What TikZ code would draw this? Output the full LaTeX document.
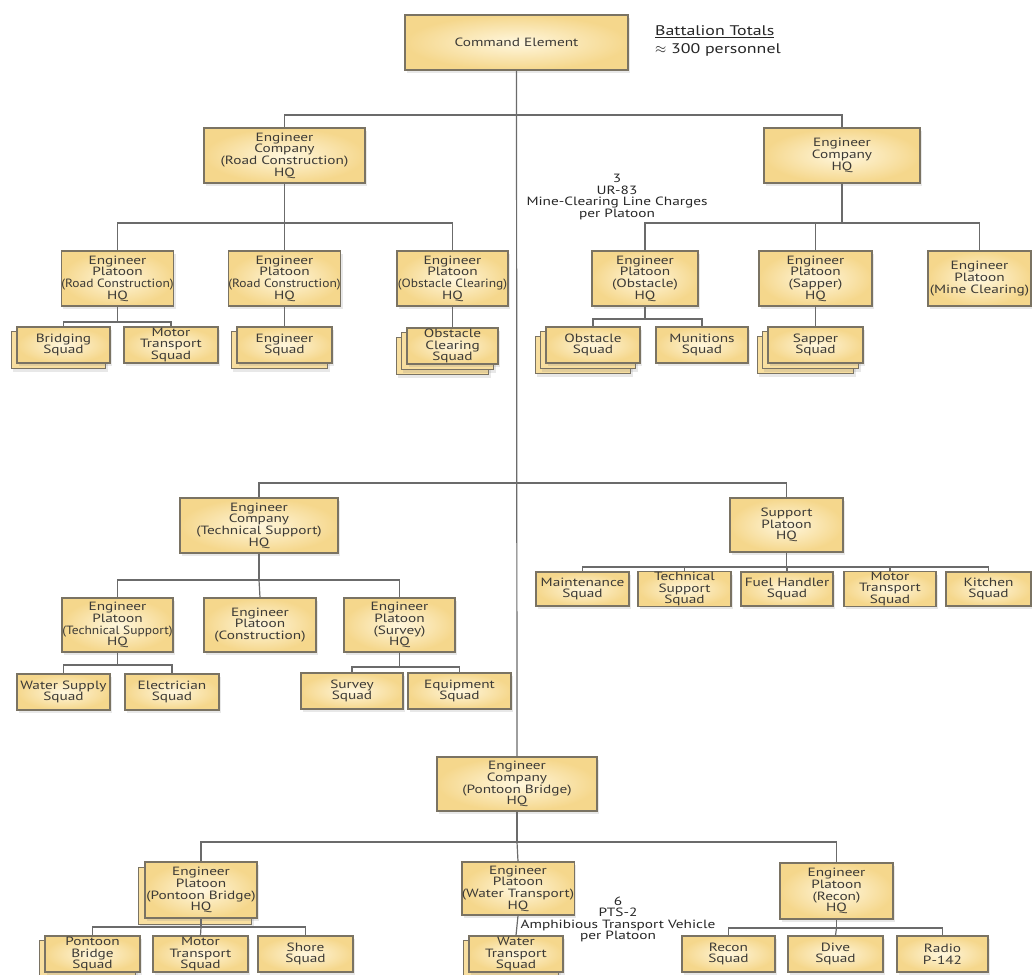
\documentclass[tikz,border=0pt]{standalone}
\usepackage{fontspec}
\usepackage{graphicx}
\setmainfont{PT Sans}[FakeStretch=1.28]
\usetikzlibrary{shadows}
\pgfdeclarelayer{bg}
\pgfsetlayers{bg,main}
\definecolor{boxline}{HTML}{7A7363}
\definecolor{boxin}{HTML}{FFF7DE}
\definecolor{boxout}{HTML}{F5D78C}
\definecolor{wirecol}{HTML}{6B6B6B}
\definecolor{ink}{HTML}{3C3A36}
% stacked card drawn behind a node, shifted left/down by #2
\newcommand\cardbehind[2]{\path[backcard] ([shift={(-#2,#2)}]#1.south west) rectangle ([shift={(-#2,#2)}]#1.north east);}
% narrowed line for long unit names in small boxes
\newcommand\sqz[1]{\scalebox{0.88}[1]{#1}}
\tikzset{
  unit box/.style 2 args={minimum width=#1bp, minimum height=#2bp},
  orgbox/.style={draw=boxline, line width=1.1bp, inner color=boxin, outer color=boxout,
    text=ink, align=center, inner sep=0bp,
    font=\fontsize{12}{11.8}\selectfont,
    drop shadow={shadow xshift=2bp, shadow yshift=-3bp, opacity=0.18}},
  backcard/.style={draw=boxline, line width=1.1bp, fill=boxout!75!boxin,
    drop shadow={shadow xshift=2bp, shadow yshift=-3bp, opacity=0.18}},
  wire/.style={draw=wirecol, line width=1.2bp},
  note/.style={text=black!85, align=center, inner sep=0pt,
    font=\fontsize{12}{11.5}\selectfont},
}
\begin{document}
\begin{tikzpicture}[x=1bp, y=-1bp]
\useasboundingbox (0,0) rectangle (1032,975);

% ---------- top level ----------
\node[orgbox, unit box={223}{55}] (cmd) at (516.5,42.5) {Command Element};
\node[note, anchor=west, align=left, font=\fontsize{14}{17.5}\selectfont] (totals) at (655,41)
  {\underline{Battalion Totals}\\$\approx$ 300 personnel};

\node[orgbox, unit box={161}{55}] (coRC) at (284.5,155.5) {Engineer\\Company\\(Road Construction)\\HQ};
\node[orgbox, unit box={156}{55}] (coHQ) at (842,155.5) {Engineer\\Company\\HQ};

% ---------- road construction company ----------
\node[orgbox, unit box={111}{55}] (plRC1) at (117.5,278.5) {Engineer\\Platoon\\\sqz{(Road Construction)}\\HQ};
\node[orgbox, unit box={111}{55}] (plRC2) at (284.5,278.5) {Engineer\\Platoon\\\sqz{(Road Construction)}\\HQ};
\node[orgbox, unit box={111}{55}] (plOC) at (452.5,278.5) {Engineer\\Platoon\\\sqz{(Obstacle Clearing)}\\HQ};

\node[orgbox, unit box={93}{36}] (sqBr) at (63.5,345) {Bridging\\Squad};
\node[orgbox, unit box={94}{36}] (sqMT1) at (171,345) {Motor\\Transport\\Squad};
\node[orgbox, unit box={95}{36}] (sqEn) at (284.5,345) {Engineer\\Squad};
\node[orgbox, unit box={91}{36}] (sqOC) at (452.5,346) {Obstacle\\Clearing\\Squad};

% ---------- engineer company HQ ----------
\node[note] (ur83) at (617,197) {3\\UR-83\\Mine-Clearing Line Charges\\per Platoon};
\node[orgbox, unit box={106}{55}] (plOb) at (645,278.5) {Engineer\\Platoon\\(Obstacle)\\HQ};
\node[orgbox, unit box={113}{55}] (plSa) at (815.5,278.5) {Engineer\\Platoon\\(Sapper)\\HQ};
\node[orgbox, unit box={103}{55}] (plMC) at (979.5,278.5) {Engineer\\Platoon\\(Mine Clearing)};

\node[orgbox, unit box={94}{36}] (sqOb) at (593,345) {Obstacle\\Squad};
\node[orgbox, unit box={92}{36}] (sqMu) at (702,345) {Munitions\\Squad};
\node[orgbox, unit box={95}{36}] (sqSa) at (815.5,345) {Sapper\\Squad};

% ---------- technical support company ----------
\node[orgbox, unit box={158}{55}] (coTS) at (259,525.5) {Engineer\\Company\\(Technical Support)\\HQ};
\node[orgbox, unit box={111}{54}] (plTS) at (117.5,625) {Engineer\\Platoon\\\sqz{(Technical Support)}\\HQ};
\node[orgbox, unit box={112}{54}] (plCo) at (260,625) {Engineer\\Platoon\\(Construction)};
\node[orgbox, unit box={111}{54}] (plSv) at (399.5,625) {Engineer\\Platoon\\(Survey)\\HQ};

\node[orgbox, unit box={93}{36}] (sqWS) at (63.5,692) {Water Supply\\Squad};
\node[orgbox, unit box={94}{36}] (sqEl) at (172,692) {Electrician\\Squad};
\node[orgbox, unit box={102}{36}] (sqSv) at (352,691) {Survey\\Squad};
\node[orgbox, unit box={103}{36}] (sqEq) at (459.5,691) {Equipment\\Squad};

% ---------- support platoon ----------
\node[orgbox, unit box={113}{54}] (plSu) at (786.5,525) {Support\\Platoon\\HQ};
\node[orgbox, unit box={93}{34}] (sqMa) at (582.5,589) {Maintenance\\Squad};
\node[orgbox, unit box={93}{34}] (sqTS) at (684.5,589) {Technical\\Support\\Squad};
\node[orgbox, unit box={92}{34}] (sqFH) at (787,589) {Fuel Handler\\Squad};
\node[orgbox, unit box={92}{34}] (sqMT2) at (890,589) {Motor\\Transport\\Squad};
\node[orgbox, unit box={85}{34}] (sqKi) at (988.5,589) {Kitchen\\Squad};

% ---------- pontoon bridge company ----------
\node[orgbox, unit box={160}{54}] (coPB) at (517,784) {Engineer\\Company\\(Pontoon Bridge)\\HQ};
\node[orgbox, unit box={112}{56}] (plPB) at (201,890) {Engineer\\Platoon\\(Pontoon Bridge)\\HQ};
\node[orgbox, unit box={112}{53}] (plWT) at (518,888.5) {Engineer\\Platoon\\(Water Transport)\\HQ};
\node[orgbox, unit box={113}{56}] (plRe) at (836.5,891) {Engineer\\Platoon\\(Recon)\\HQ};
\node[note] (pts2) at (618,919.5) {6\\PTS-2\\Amphibious Transport Vehicle\\per Platoon};

\node[orgbox, unit box={95}{36}] (sqPBr) at (92.5,954) {Pontoon\\Bridge\\Squad};
\node[orgbox, unit box={95}{36}] (sqMT3) at (200.5,954) {Motor\\Transport\\Squad};
\node[orgbox, unit box={95}{36}] (sqSh) at (305.5,954) {Shore\\Squad};
\node[orgbox, unit box={94}{36}] (sqWT) at (516,954) {Water\\Transport\\Squad};
\node[orgbox, unit box={93}{36}] (sqRe) at (728.5,954) {Recon\\Squad};
\node[orgbox, unit box={95}{36}] (sqDi) at (835.5,954) {Dive\\Squad};
\node[orgbox, unit box={91}{36}] (sqRa) at (942.5,954) {Radio\\P-142};

% ---------- page background and stacked cards ----------
\begin{pgfonlayer}{bg}
  \fill[white] (0,0) rectangle (1032,975);
  \cardbehind{sqBr}{5}
  \cardbehind{sqEn}{5}
  \cardbehind{sqOC}{10}\cardbehind{sqOC}{5}
  \cardbehind{sqOb}{10}\cardbehind{sqOb}{5}
  \cardbehind{sqSa}{10}\cardbehind{sqSa}{5}
  \cardbehind{plPB}{6}
  \cardbehind{sqPBr}{5}
  \cardbehind{sqWT}{5}
\end{pgfonlayer}

% ---------- connectors ----------
\coordinate (bus0) at (517,115);
\coordinate (busL) at (284.5,223);
\coordinate (busR) at (842,223);
\coordinate (bus1) at (517,483);
\coordinate (bus2) at (517,842);
\coordinate (busRC1) at (117.5,322);
\coordinate (busOb) at (645,319);
\coordinate (busSu) at (786.5,567);
\coordinate (busTS) at (259,580);
\coordinate (busTSp) at (117.5,665);
\coordinate (busSv) at (399.5,667);
\coordinate (busPB) at (201,927);
\coordinate (busRe) at (836.5,928);

\draw[wire] (cmd.south) -- (coPB.north);
\draw[wire] (coRC.north) |- (bus0) -| (coHQ.north);

\draw[wire] (coRC.south) -- (busL);
\draw[wire] (plRC1.north) |- (busL) -| (plOC.north);
\draw[wire] (busL) -- (plRC2.north);
\draw[wire] (plRC1.south) -- (busRC1);
\draw[wire] (sqBr.north) |- (busRC1) -| (sqMT1.north);
\draw[wire] (plRC2.south) -- (sqEn.north);
\draw[wire] (plOC.south) -- (sqOC.north);

\draw[wire] (coHQ.south) -- (busR);
\draw[wire] (plOb.north) |- (busR) -| (plMC.north);
\draw[wire] (plSa.north) -- (plSa.north |- busR);
\draw[wire] (plOb.south) -- (busOb);
\draw[wire] (sqOb.north) |- (busOb) -| (sqMu.north);
\draw[wire] (plSa.south) -- (sqSa.north);

\draw[wire] (coTS.north) |- (bus1) -| (plSu.north);
\draw[wire] (coTS.south) -- (busTS);
\draw[wire] (plTS.north) |- (busTS) -| (plSv.north);
\draw[wire] (busTS) -- (plCo.north);
\draw[wire] (plTS.south) -- (busTSp);
\draw[wire] (sqWS.north) |- (busTSp) -| (sqEl.north);
\draw[wire] (plSv.south) -- (busSv);
\draw[wire] (sqSv.north) |- (busSv) -| (sqEq.north);

\draw[wire] (plSu.south) -- (busSu);
\draw[wire] (sqMa.north) |- (busSu) -| (sqKi.north);
\draw[wire] (sqTS.north) -- (sqTS.north |- busSu);
\draw[wire] (sqFH.north) -- (sqFH.north |- busSu);
\draw[wire] (sqMT2.north) -- (sqMT2.north |- busSu);

\draw[wire] (coPB.south) -- (bus2);
\draw[wire] (plPB.north) |- (bus2) -| (plRe.north);
\draw[wire] (bus2) -- (plWT.north);
\draw[wire] (plPB.south) -- (busPB);
\draw[wire] (sqPBr.north) |- (busPB) -| (sqSh.north);
\draw[wire] (busPB) -- (sqMT3.north);
\draw[wire] (plWT.south) -- (sqWT.north);
\draw[wire] (plRe.south) -- (busRe);
\draw[wire] (sqRe.north) |- (busRe) -| (sqRa.north);
\draw[wire] (busRe) -- (sqDi.north);
\end{tikzpicture}
\end{document}
